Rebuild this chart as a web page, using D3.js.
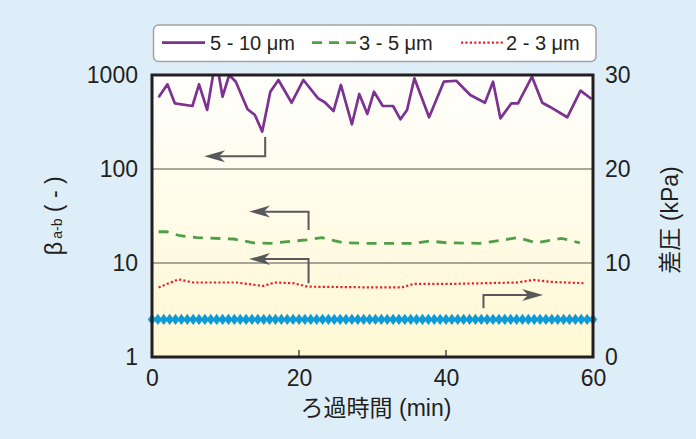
<!DOCTYPE html>
<html>
<head>
<meta charset="utf-8">
<script src="https://cdn.jsdelivr.net/npm/d3@7"></script>
<style>
  html, body { margin: 0; padding: 0; background: #deeef8; }
  svg { display: block; }
  text { font-family: "Liberation Sans", Arial, "Noto Sans CJK JP", sans-serif; fill: #231f20; }
</style>
</head>
<body>
<svg id="chart" width="696" height="439"></svg>
<script>
// β(a-b) for the 5-10 µm particle band: [time (min), value]
const timeLarge = [0.9, 2.1, 3.1, 5.5, 6.4, 7.5, 8.4, 9.0, 9.6, 10.5, 11.4, 13.0, 14.0, 15.0, 16.1, 17.2, 19.0, 20.6, 22.6, 23.5, 24.7, 25.7, 27.2, 28.2, 29.3, 30.2, 31.4, 32.8, 33.8, 34.7, 35.7, 37.7, 39.7, 41.4, 43.3, 45.3, 46.4, 47.4, 48.9, 49.8, 51.7, 53.1, 54.1, 56.5, 58.3, 59.8];
const betaLarge = [580, 796, 500, 468, 796, 425, 1100, 1100, 588, 1000, 849, 432, 375, 250, 664, 885, 507, 885, 565, 513, 414, 783, 299, 628, 385, 664, 468, 468, 338, 425, 922, 355, 849, 869, 612, 507, 849, 346, 500, 500, 959, 507, 460, 355, 681, 556];

// β(a-b) for the 3-5 µm band
const timeMid = [0.9, 2.0, 3.8, 6.1, 11.1, 13.8, 16.1, 21.0, 23.1, 26.0, 29.2, 35.6, 37.8, 40.1, 44.6, 47.8, 49.8, 52.3, 55.7, 58.2];
const betaMid = [21.5, 21.5, 19.5, 18.6, 18.0, 16.4, 16.2, 17.6, 18.6, 16.4, 16.2, 16.2, 17.1, 16.4, 16.2, 17.6, 18.6, 16.4, 18.3, 16.4];

// β(a-b) for the 2-3 µm band
const timeSmall = [0.9, 3.6, 5.6, 11.5, 15.1, 16.7, 19.2, 21.2, 30.2, 34.0, 35.6, 41.0, 49.6, 51.9, 54.2, 58.7];
const betaSmall = [5.5, 6.7, 6.2, 6.2, 5.7, 6.2, 6.1, 5.6, 5.5, 5.5, 6.0, 6.0, 6.2, 6.6, 6.3, 6.1];

// Differential pressure (kPa), right axis
const timePressure = [0, 0.8, 1.6, 2.4, 3.2, 4, 4.8, 5.6, 6.4, 7.2, 8, 8.8, 9.6, 10.4, 11.2, 12, 12.8, 13.6, 14.4, 15.2, 16, 16.8, 17.6, 18.4, 19.2, 20, 20.8, 21.6, 22.4, 23.2, 24, 24.8, 25.6, 26.4, 27.2, 28, 28.8, 29.6, 30.4, 31.2, 32, 32.8, 33.6, 34.4, 35.2, 36, 36.8, 37.6, 38.4, 39.2, 40, 40.8, 41.6, 42.4, 43.2, 44, 44.8, 45.6, 46.4, 47.2, 48, 48.8, 49.6, 50.4, 51.2, 52, 52.8, 53.6, 54.4, 55.2, 56, 56.8, 57.6, 58.4, 59.2, 60];
const pressure = [4.0, 4.0, 4.0, 4.0, 4.0, 4.0, 4.0, 4.0, 4.0, 4.0, 4.0, 4.0, 4.0, 4.0, 4.0, 4.0, 4.0, 4.0, 4.0, 4.0, 4.0, 4.0, 4.0, 4.0, 4.0, 4.0, 4.0, 4.0, 4.0, 4.0, 4.0, 4.0, 4.0, 4.0, 4.0, 4.0, 4.0, 4.0, 4.0, 4.0, 4.0, 4.0, 4.0, 4.0, 4.0, 4.0, 4.0, 4.0, 4.0, 4.0, 4.0, 4.0, 4.0, 4.0, 4.0, 4.0, 4.0, 4.0, 4.0, 4.0, 4.0, 4.0, 4.0, 4.0, 4.0, 4.0, 4.0, 4.0, 4.0, 4.0, 4.0, 4.0, 4.0, 4.0, 4.0, 4.0];

// Axis ticks
const xTicks = [0, 20, 40, 60];
const leftTicks = [1, 10, 100, 1000];
const rightTicks = [0, 10, 20, 30];
const gridValues = [10, 100];

// Legend entries
const legendLabels = ["5 - 10 μm", "3 - 5 μm", "2 - 3 μm"];

// Pointer arrows showing which axis each curve belongs to: start -> corner -> tip
// axis: "L" = left β scale, "R" = right kPa scale
const arrowAxis = ["L", "L", "L", "R"];
const arrowStart = [[15.4, 219], [21.3, 22.4], [21.3, 6.08], [45.1, 5.18]];
const arrowCorner = [[15.4, 137], [21.3, 35.2], [21.3, 11.0], [45.1, 6.6]];
const arrowTip = [[7.1, 137], [13.2, 35.2], [13.2, 11.0], [53.2, 6.6]];

const svg = d3.select("#chart");
const plotLeft = 152, plotRight = 593, plotTop = 75, plotBottom = 357;

const x = d3.scaleLinear().domain([0, 60]).range([plotLeft, plotRight]);
const yL = d3.scaleLog().domain([1, 1000]).range([plotBottom, plotTop]);
const yR = d3.scaleLinear().domain([0, 30]).range([plotBottom, plotTop]);

const defs = svg.append("defs");
const grad = defs.append("linearGradient").attr("id", "plotBg")
  .attr("x1", 0).attr("y1", 0).attr("x2", 0).attr("y2", 1);
grad.append("stop").attr("offset", "0%").attr("stop-color", "#fffffc");
grad.append("stop").attr("offset", "100%").attr("stop-color", "#fff8d3");
defs.append("clipPath").attr("id", "plotClip")
  .append("rect").attr("x", plotLeft).attr("y", plotTop)
  .attr("width", plotRight - plotLeft).attr("height", plotBottom - plotTop);

// Plot background
svg.append("rect").attr("x", plotLeft).attr("y", plotTop)
  .attr("width", plotRight - plotLeft).attr("height", plotBottom - plotTop)
  .attr("fill", "url(#plotBg)");

// Horizontal grid lines at the decades
svg.append("g").selectAll("line").data(gridValues).join("line")
  .attr("x1", plotLeft).attr("x2", plotRight)
  .attr("y1", d => yL(d)).attr("y2", d => yL(d))
  .attr("stroke", "#8b8a82").attr("stroke-width", 1.6);

// Small ticks on the time axis
svg.append("g").selectAll("line").data(xTicks.slice(1, 3)).join("line")
  .attr("x1", d => x(d)).attr("x2", d => x(d))
  .attr("y1", plotBottom).attr("y2", plotBottom - 7)
  .attr("stroke", "#231f20").attr("stroke-width", 1.2);

const plot = svg.append("g").attr("clip-path", "url(#plotClip)");

const lineL = (ts, vs) => d3.line().x((d, i) => x(ts[i])).y(d => yL(d))(vs);

plot.append("path").attr("d", lineL(timeLarge, betaLarge))
  .attr("fill", "none").attr("stroke", "#7d3191").attr("stroke-width", 2.7).attr("stroke-linejoin", "round");
plot.append("path").attr("d", lineL(timeMid, betaMid))
  .attr("fill", "none").attr("stroke", "#4f9f4a").attr("stroke-width", 2.8).attr("stroke-dasharray", "10,7.5");
plot.append("path").attr("d", lineL(timeSmall, betaSmall))
  .attr("fill", "none").attr("stroke", "#e6222b").attr("stroke-width", 2.2).attr("stroke-dasharray", "2.2,2.2");

// Pointer arrows
const arrowColor = "#58595b";
const ay = (axis, v) => axis === "L" ? yL(v) : yR(v);
const arrows = svg.append("g");
arrowAxis.forEach((axis, i) => {
  const p0 = [x(arrowStart[i][0]), ay(axis, arrowStart[i][1])];
  const p1 = [x(arrowCorner[i][0]), ay(axis, arrowCorner[i][1])];
  const p2 = [x(arrowTip[i][0]), ay(axis, arrowTip[i][1])];
  const dir = Math.sign(p2[0] - p1[0]);
  const shaftEnd = [p2[0] - dir * 15, p2[1]];
  arrows.append("path")
    .attr("d", d3.line()([p0, p1, shaftEnd]))
    .attr("fill", "none").attr("stroke", arrowColor).attr("stroke-width", 2);
  arrows.append("path")
    .attr("d", `M${p2[0]},${p2[1]} L${p2[0] - dir * 21},${p2[1] - 6} L${p2[0] - dir * 15},${p2[1]} L${p2[0] - dir * 21},${p2[1] + 6} Z`)
    .attr("fill", arrowColor);
});

// Differential pressure: line with diamond markers
svg.append("path")
  .attr("d", d3.line().x((d, i) => x(timePressure[i])).y(d => yR(d))(pressure))
  .attr("fill", "none").attr("stroke", "#0e9bd8").attr("stroke-width", 2);
svg.append("g").selectAll("path").data(pressure).join("path")
  .attr("transform", (d, i) => `translate(${x(timePressure[i])},${yR(d)})`)
  .attr("d", "M0,-5.6 L4.2,0 L0,5.6 L-4.2,0 Z")
  .attr("fill", "#0e9bd8");

// Plot frame
svg.append("rect").attr("x", plotLeft).attr("y", plotTop)
  .attr("width", plotRight - plotLeft).attr("height", plotBottom - plotTop)
  .attr("fill", "none").attr("stroke", "#231f20").attr("stroke-width", 3);

// Axes
const axisFont = "23px";
const gL = svg.append("g").attr("transform", `translate(${plotLeft},0)`)
  .call(d3.axisLeft(yL).tickValues(leftTicks).tickFormat(d3.format("d")).tickSize(0).tickPadding(14));
const gR = svg.append("g").attr("transform", `translate(${plotRight},0)`)
  .call(d3.axisRight(yR).tickValues(rightTicks).tickFormat(d3.format("d")).tickSize(0).tickPadding(12));
const gB = svg.append("g").attr("transform", `translate(0,${plotBottom})`)
  .call(d3.axisBottom(x).tickValues(xTicks).tickFormat(d3.format("d")).tickSize(0).tickPadding(13));
[gL, gR, gB].forEach(g => {
  g.select(".domain").remove();
  g.selectAll("text").attr("font-size", axisFont).attr("fill", "#231f20")
    .style("font-family", "'Liberation Sans', Arial, sans-serif");
});

// Axis titles
svg.append("text").attr("x", 376).attr("y", 416).attr("text-anchor", "middle")
  .attr("font-size", 23).text("ろ過時間 (min)");

const lt = svg.append("text").attr("transform", "translate(62,216) rotate(-90)")
  .attr("text-anchor", "middle").attr("font-size", 23);
lt.append("tspan").attr("font-size", 24).text("β");
lt.append("tspan").attr("font-size", 14).attr("dx", 3).text("a-b");
lt.append("tspan").text(" ( - )");

svg.append("text").attr("transform", "translate(678,220) rotate(-90)")
  .attr("text-anchor", "middle").attr("font-size", 23).text("差圧 (kPa)");

// Legend
const lg = svg.append("g");
lg.append("rect").attr("x", 153.5).attr("y", 25).attr("width", 442.5).attr("height", 36.5).attr("rx", 5)
  .attr("fill", "#ffffff").attr("stroke", "#a3a3a3").attr("stroke-width", 1.5);
const legendStyle = [
  { color: "#7d3191", dash: null, width: 2.7, x0: 162, x1: 205, tx: 210 },
  { color: "#4f9f4a", dash: "10,7", width: 2.8, x0: 312, x1: 357, tx: 359 },
  { color: "#e6222b", dash: "2.2,2.2", width: 2.2, x0: 461, x1: 503, tx: 506 }
];
legendLabels.forEach((label, i) => {
  const s = legendStyle[i];
  lg.append("line").attr("x1", s.x0).attr("x2", s.x1).attr("y1", 42.7).attr("y2", 42.7)
    .attr("stroke", s.color).attr("stroke-width", s.width)
    .attr("stroke-dasharray", s.dash);
  lg.append("text").attr("x", s.tx).attr("y", 49.5).attr("font-size", 20).text(label);
});
</script>
</body>
</html>
